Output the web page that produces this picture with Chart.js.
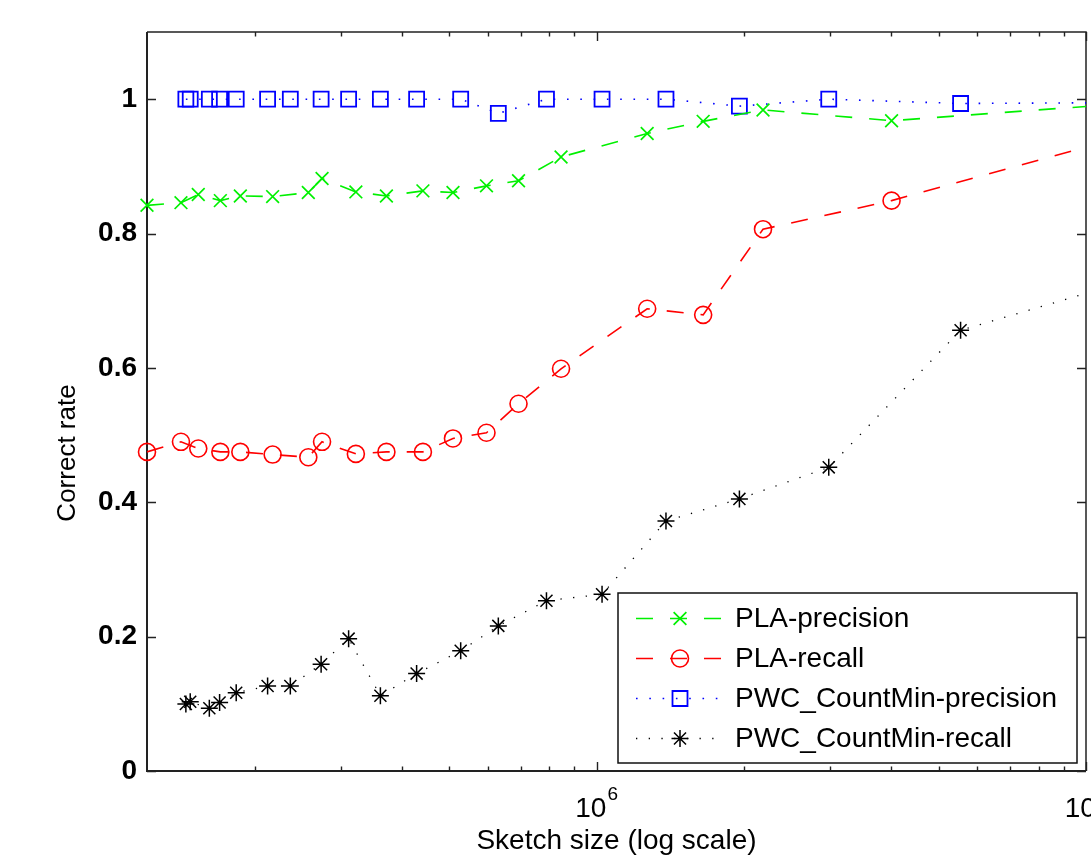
<!DOCTYPE html>
<html><head><meta charset="utf-8">
<script src="https://cdn.jsdelivr.net/npm/chart.js@4.4.1/dist/chart.umd.min.js"></script>
<style>html,body{margin:0;padding:0;background:#fff;} #wrap{width:1091px;height:865px;}</style>
</head><body><div id="wrap"><canvas id="c" width="1091" height="865"></canvas></div>
<script>
// ---- data ----
const plaSizes = [120600, 141500, 153500, 170300, 187100, 217800, 257600, 274800, 322200, 372000, 441700, 508800, 595700, 692600, 846000, 1268700, 1651000, 2188000, 4006000, 11790000];
const plaPrecision = [0.842, 0.846, 0.858, 0.849, 0.856, 0.855, 0.861, 0.882, 0.862, 0.856, 0.8635, 0.861, 0.871, 0.8785, 0.914, 0.949, 0.967, 0.984, 0.968, 0.993];
const plaRecall = [0.475, 0.490, 0.480, 0.475, 0.475, 0.471, 0.467, 0.490, 0.472, 0.475, 0.475, 0.495, 0.5035, 0.5466, 0.5987, 0.688, 0.679, 0.8065, 0.849, 0.943];
const pwcSizes = [144800, 147800, 161700, 169700, 183500, 212700, 236700, 273600, 311400, 361600, 428800, 527600, 629800, 789900, 1026000, 1386000, 1958000, 2981000, 5543000, 12960000];
const pwcPrecision = [1, 1, 1, 1, 1, 1, 1, 1, 1, 1, 1, 1, 0.979, 1, 1, 1, 0.9896, 1, 0.9936, 0.995];
const pwcRecall = [0.0997, 0.103, 0.0933, 0.102, 0.1165, 0.1265, 0.1265, 0.159, 0.197, 0.112, 0.145, 0.179, 0.216, 0.2535, 0.263, 0.372, 0.405, 0.452, 0.656, 0.735];
const seriesLabels = ['PLA-precision', 'PLA-recall', 'PWC_CountMin-precision', 'PWC_CountMin-recall'];
const yTickValues = [0, 0.2, 0.4, 0.6, 0.8, 1];
const yTickLabels = ['0', '0.2', '0.4', '0.6', '0.8', '1'];
const xTickValues = [1e6, 1e7];
const xTickBases = ['10', '10'];
const xTickExponents = ['6', '7'];
const xMinorTicks = [2e5, 3e5, 4e5, 5e5, 6e5, 7e5, 8e5, 9e5, 2e6, 3e6, 4e6, 5e6, 6e6, 7e6, 8e6, 9e6];
const xAxisTitle = 'Sketch size (log scale)';
const yAxisTitle = 'Correct rate';

const FONT = "'Liberation Sans', Arial, Helvetica, sans-serif";
Chart.defaults.font.family = FONT;
Chart.defaults.color = '#000';

function pts(xs, ys) { return xs.map((x, i) => ({x: x, y: ys[i]})); }
const clipArea = {left: 14, top: 14, right: 0, bottom: 14};

const datasets = [
  {label: seriesLabels[0], data: pts(plaSizes, plaPrecision), borderColor: '#00f000', borderWidth: 1.6,
   borderDash: [17, 17], pointStyle: 'crossRot', pointRadius: 9, pointBorderWidth: 1.7,
   pointBorderColor: '#00f000', pointBackgroundColor: 'rgba(0,0,0,0)', clip: clipArea},
  {label: seriesLabels[1], data: pts(plaSizes, plaRecall), borderColor: '#ff0000', borderWidth: 1.6,
   borderDash: [17, 17], pointStyle: 'circle', pointRadius: 8.5, pointBorderWidth: 1.6,
   pointBorderColor: '#ff0000', pointBackgroundColor: 'rgba(0,0,0,0)', clip: clipArea},
  {label: seriesLabels[2], data: pts(pwcSizes, pwcPrecision), borderColor: '#0000ff', borderWidth: 1.6,
   borderDash: [1.6, 11.7], pointStyle: 'rect', pointRadius: 10.6, pointBorderWidth: 1.8,
   pointBorderColor: '#0000ff', pointBackgroundColor: 'rgba(0,0,0,0)', clip: clipArea},
  {label: seriesLabels[3], data: pts(pwcSizes, pwcRecall), borderColor: '#000000', borderWidth: 1.3,
   borderDash: [1.3, 11.4], pointStyle: 'star', pointRadius: 8.5, pointBorderWidth: 1.5,
   pointBorderColor: '#000000', pointBackgroundColor: 'rgba(0,0,0,0)', clip: clipArea}
];

function drawMarker(ctx, style, x, y, r) {
  ctx.beginPath();
  const d = r * Math.SQRT1_2;
  if (style === 'crossRot') {
    ctx.moveTo(x - d, y - d); ctx.lineTo(x + d, y + d);
    ctx.moveTo(x + d, y - d); ctx.lineTo(x - d, y + d);
  } else if (style === 'circle') {
    ctx.arc(x, y, r, 0, Math.PI * 2);
  } else if (style === 'rect') {
    ctx.rect(x - d, y - d, 2 * d, 2 * d);
  } else if (style === 'star') {
    ctx.moveTo(x - r, y); ctx.lineTo(x + r, y);
    ctx.moveTo(x, y - r); ctx.lineTo(x, y + r);
    ctx.moveTo(x - d, y - d); ctx.lineTo(x + d, y + d);
    ctx.moveTo(x + d, y - d); ctx.lineTo(x - d, y + d);
  }
  ctx.stroke();
}

const framePlugin = {
  id: 'frame',
  beforeDatasetsDraw(chart) {
    const {ctx, chartArea: a, scales: {x, y}} = chart;
    ctx.save();
    ctx.strokeStyle = '#222';
    ctx.setLineDash([]);
    ctx.lineWidth = 2;
    ctx.beginPath();
    ctx.moveTo(a.left, a.top); ctx.lineTo(a.left, a.bottom); ctx.lineTo(a.right, a.bottom);
    ctx.stroke();
    ctx.lineWidth = 1.5;
    ctx.beginPath();
    ctx.moveTo(a.left, a.top); ctx.lineTo(a.right, a.top); ctx.lineTo(a.right, a.bottom);
    ctx.stroke();
    ctx.lineWidth = 1.4;
    ctx.beginPath();
    yTickValues.forEach(v => {
      const py = Math.round(y.getPixelForValue(v)) + 0.5;
      ctx.moveTo(a.left, py); ctx.lineTo(a.left + 9, py);
      ctx.moveTo(a.right, py); ctx.lineTo(a.right - 9, py);
    });
    xTickValues.forEach(v => {
      const px = Math.round(x.getPixelForValue(v)) + 0.5;
      ctx.moveTo(px, a.bottom); ctx.lineTo(px, a.bottom - 9);
      ctx.moveTo(px, a.top); ctx.lineTo(px, a.top + 9);
    });
    xMinorTicks.forEach(v => {
      const px = Math.round(x.getPixelForValue(v)) + 0.5;
      if (px < a.left || px > a.right) return;
      ctx.moveTo(px, a.bottom); ctx.lineTo(px, a.bottom - 4.5);
      ctx.moveTo(px, a.top); ctx.lineTo(px, a.top + 4.5);
    });
    ctx.stroke();
    ctx.restore();
  },
  afterDraw(chart) {
    const {ctx, chartArea: a, scales: {x}} = chart;
    ctx.save();
    ctx.fillStyle = '#000';
    ctx.textBaseline = 'alphabetic';
    ctx.textAlign = 'left';
    xTickValues.forEach((v, i) => {
      const px = x.getPixelForValue(v);
      ctx.font = '28px ' + FONT;
      const wb = ctx.measureText(xTickBases[i]).width;
      ctx.font = '19px ' + FONT;
      const we = ctx.measureText(xTickExponents[i]).width;
      const start = px - (wb + 1 + we) / 2;
      ctx.font = '28px ' + FONT;
      ctx.fillText(xTickBases[i], start, a.bottom + 46);
      ctx.font = '19px ' + FONT;
      ctx.fillText(xTickExponents[i], start + wb + 1, a.bottom + 29);
    });
    ctx.font = '26px ' + FONT;
    ctx.textAlign = 'center';
    ctx.textBaseline = 'middle';
    ctx.translate(68, 453);
    ctx.rotate(-Math.PI / 2);
    ctx.fillText(yAxisTitle, 0, 0);
    ctx.restore();

    ctx.save();
    const lx = 618, ly = 593, lw = 459, lh = 170;
    ctx.fillStyle = '#fff';
    ctx.fillRect(lx, ly, lw, lh);
    ctx.strokeStyle = '#111';
    ctx.lineWidth = 1.5;
    ctx.setLineDash([]);
    ctx.strokeRect(lx, ly, lw, lh);
    chart.data.datasets.forEach((ds, i) => {
      const ry = 618.5 + i * 40;
      ctx.strokeStyle = ds.borderColor;
      ctx.lineWidth = ds.borderWidth;
      ctx.setLineDash(ds.borderDash);
      ctx.lineDashOffset = 0;
      ctx.beginPath();
      ctx.moveTo(636, ry); ctx.lineTo(722, ry);
      ctx.stroke();
      ctx.setLineDash([]);
      ctx.strokeStyle = ds.pointBorderColor;
      ctx.lineWidth = ds.pointBorderWidth;
      drawMarker(ctx, ds.pointStyle, 680, ry, ds.pointRadius);
      ctx.fillStyle = '#000';
      ctx.font = '28px ' + FONT;
      ctx.textAlign = 'left';
      ctx.textBaseline = 'middle';
      ctx.fillText(ds.label, 735, ry + 1);
    });
    ctx.restore();
  }
};

new Chart(document.getElementById('c'), {
  type: 'line',
  data: {datasets: datasets},
  plugins: [framePlugin],
  options: {
    responsive: false,
    devicePixelRatio: 1,
    animation: false,
    events: [],
    layout: {autoPadding: false, padding: {top: 32, right: 5, left: 0, bottom: 0}},
    plugins: {legend: {display: false}, tooltip: {enabled: false}},
    elements: {line: {tension: 0}},
    scales: {
      x: {
        type: 'logarithmic', min: 120600, max: 1e7,
        grid: {display: false, drawTicks: false}, border: {display: false},
        ticks: {display: false},
        afterBuildTicks: s => { s.ticks = xTickValues.map(v => ({value: v})); },
        afterFit: s => { s.height = 94; },
        title: {display: true, text: xAxisTitle, font: {size: 28, family: FONT}, color: '#000', padding: {top: 0, bottom: 7}}
      },
      y: {
        type: 'linear', min: 0, max: 1.1,
        grid: {display: false, drawTicks: false}, border: {display: false},
        afterBuildTicks: s => { s.ticks = yTickValues.map(v => ({value: v})); },
        ticks: {
          padding: 10, color: '#000',
          font: {size: 28, weight: 'bold', family: FONT},
          callback: (v) => { const i = yTickValues.indexOf(v); return i >= 0 ? yTickLabels[i] : ''; }
        },
        afterFit: s => { s.width = 147; }
      }
    }
  }
});
</script>
</body></html>
